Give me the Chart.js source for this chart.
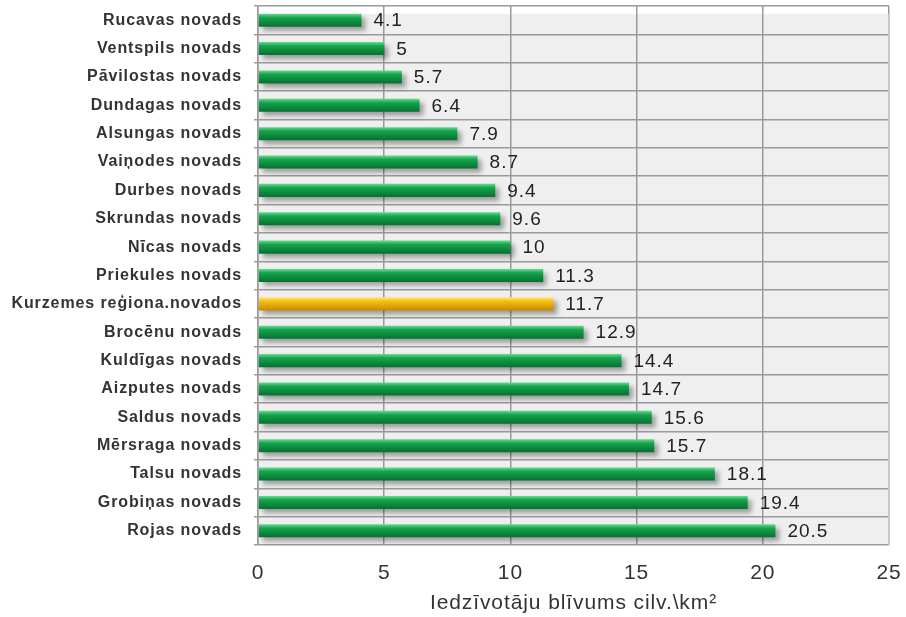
<!DOCTYPE html>
<html>
<head>
<meta charset="utf-8">
<script src="https://cdn.jsdelivr.net/npm/chart.js@4"></script>
<style>
  body { margin: 0; background: #fff; }
  #wrap { width: 906px; height: 617px; }
</style>
</head>
<body>
<div id="wrap"><canvas id="blivumsChart"></canvas></div>
<script>
const novadi = ["Rucavas novads", "Ventspils novads", "Pāvilostas novads", "Dundagas novads", "Alsungas novads",
  "Vaiņodes novads", "Durbes novads", "Skrundas novads", "Nīcas novads", "Priekules novads",
  "Kurzemes reģiona.novados", "Brocēnu novads", "Kuldīgas novads", "Aizputes novads", "Saldus novads",
  "Mērsraga novads", "Talsu novads", "Grobiņas novads", "Rojas novads"];
const blivums = [4.1, 5, 5.7, 6.4, 7.9, 8.7, 9.4, 9.6, 10, 11.3, 11.7, 12.9, 14.4, 14.7, 15.6, 15.7, 18.1, 19.4, 20.5];
const xTicks = [0, 5, 10, 15, 20, 25];
const izcelts = "Kurzemes reģiona.novados";

function barColor(context) {
    const chart = context.chart;
    const gold = novadi[context.dataIndex] === izcelts;
    const flat = gold ? '#f2b705' : '#0e9a44';
    if (!chart.chartArea || !chart.scales.y) return flat;
    const y = chart.scales.y.getPixelForValue(context.dataIndex);
    const g = chart.ctx.createLinearGradient(0, y - 6.5, 0, y + 6.5);
    if (gold) {
        g.addColorStop(0, '#ffe680');
        g.addColorStop(0.3, '#f5bf10');
        g.addColorStop(1, '#c98a00');
    } else {
        g.addColorStop(0, '#66dc90');
        g.addColorStop(0.3, '#15a44d');
        g.addColorStop(1, '#077030');
    }
    return g;
}

const fons = {
    id: 'fons',
    beforeUpdate(chart) {
        chart.ctx.letterSpacing = '0.9px';
    },
    beforeDraw(chart) {
        const a = chart.chartArea;
        const ctx = chart.ctx;
        ctx.letterSpacing = '0.9px';
        ctx.save();
        ctx.fillStyle = '#efefef';
        ctx.fillRect(a.left, a.top + 8, a.right - a.left, a.bottom - a.top - 8);
        ctx.restore();
    },
    afterDraw(chart) {
        const a = chart.chartArea;
        const ctx = chart.ctx;
        ctx.save();
        ctx.strokeStyle = '#c8c8c8';
        ctx.lineWidth = 2;
        ctx.beginPath();
        ctx.moveTo(a.right, a.top + 8);
        ctx.lineTo(a.right, a.bottom);
        ctx.stroke();
        ctx.restore();
    },
    beforeDatasetsDraw(chart) {
        const ctx = chart.ctx;
        ctx.save();
        ctx.shadowColor = 'rgba(0,0,0,0.35)';
        ctx.shadowBlur = 5;
        ctx.shadowOffsetX = 4;
        ctx.shadowOffsetY = 4;
    },
    afterDatasetsDraw(chart) {
        const ctx = chart.ctx;
        ctx.restore();
        ctx.save();
        ctx.font = '19px Arial, "Liberation Sans", sans-serif';
        ctx.letterSpacing = '1px';
        ctx.fillStyle = '#222';
        ctx.textBaseline = 'middle';
        chart.getDatasetMeta(0).data.forEach((bar, i) => {
            ctx.fillText(String(blivums[i]), bar.x + 12, bar.y + 1);
        });
        ctx.restore();
    }
};

const ctx = document.getElementById('blivumsChart').getContext('2d');
new Chart(ctx, {
    type: 'bar',
    data: {
        labels: novadi,
        datasets: [{
            data: blivums,
            backgroundColor: barColor,
            borderWidth: 0,
            barPercentage: 0.46,
            categoryPercentage: 1
        }]
    },
    options: {
        indexAxis: 'y',
        responsive: true,
        maintainAspectRatio: false,
        animation: false,
        layout: { padding: { top: 6, right: 17, bottom: 1, left: 0 } },
        plugins: {
            legend: { display: false },
            tooltip: { enabled: false }
        },
        scales: {
            x: {
                min: 0,
                max: 25,
                afterBuildTicks: scale => { scale.ticks = xTicks.map(v => ({ value: v })); },
                afterFit: scale => { scale.paddingLeft = 0; scale.paddingRight = 0; scale.height = 71; },
                grid: { color: '#9a9a9a', lineWidth: 1.5, drawTicks: false },
                border: { display: false },
                ticks: {
                    color: '#333',
                    padding: 16,
                    font: { family: 'Arial, "Liberation Sans", sans-serif', size: 21 }
                },
                title: {
                    display: true,
                    text: 'Iedzīvotāju blīvums cilv.\\km²',
                    color: '#333',
                    padding: { top: 4, bottom: 0 },
                    font: { family: 'Arial, "Liberation Sans", sans-serif', size: 21 }
                }
            },
            y: {
                afterFit: scale => { scale.width = 258; scale.paddingTop = 0; scale.paddingBottom = 0; },
                grid: { color: '#9a9a9a', lineWidth: 1.5, drawTicks: true, tickLength: 4, tickColor: '#e08080' },
                border: { color: '#9a9a9a', width: 1.5 },
                ticks: {
                    color: '#333',
                    padding: 12,
                    font: { family: 'Arial, "Liberation Sans", sans-serif', size: 16, weight: 'bold' }
                }
            }
        }
    },
    plugins: [fons]
});
</script>
</body>
</html>
